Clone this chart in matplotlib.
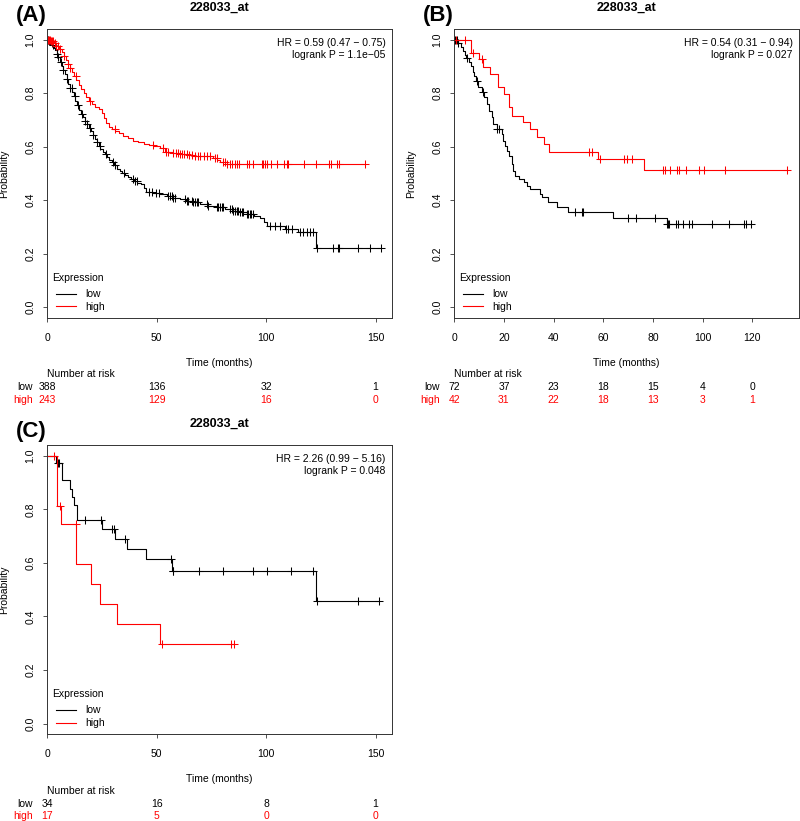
import numpy as np
import matplotlib
matplotlib.use("Agg")
import matplotlib.pyplot as plt
import matplotlib.transforms as mtransforms

plt.rcParams['font.family'] = ['Liberation Sans', 'DejaVu Sans']

# ---------------- data ----------------
probe = "228033_at"

# panel A
a_low_t = [0.8, 1.5, 2.2, 2.9, 3.6, 4.3, 5.0, 5.8, 6.5, 7.2, 8.0, 8.8, 9.6, 10.4, 11.2,
           12.0, 12.8, 13.6, 14.4, 15.3, 16.2, 17.1, 18.0, 18.9, 19.8, 20.7, 21.6, 22.5,
           23.4, 24.3, 25.3, 26.3, 27.3, 28.4, 29.5, 30.6, 31.7, 33.0, 34.3, 35.6, 37.0,
           38.4, 39.8, 41.2, 42.6, 44.2, 45.2, 48.5, 51.5, 54.5, 57.6, 60.5, 63.5, 66.5,
           69.7, 73.5, 77.4, 81.0, 85.0, 88.0, 91.1, 94.5, 97.0, 99.0, 100.2, 108.6,
           114.7, 122.7]
a_low_s = [0.995, 0.988, 0.980, 0.970, 0.960, 0.948, 0.935, 0.918, 0.902, 0.887, 0.870,
           0.853, 0.836, 0.820, 0.804, 0.789, 0.772, 0.755, 0.739, 0.724, 0.711, 0.697,
           0.684, 0.671, 0.658, 0.644, 0.630, 0.617, 0.604, 0.592, 0.582, 0.573, 0.563,
           0.552, 0.542, 0.530, 0.518, 0.510, 0.503, 0.496, 0.488, 0.480, 0.472, 0.466,
           0.460, 0.447, 0.432, 0.427, 0.422, 0.416, 0.410, 0.404, 0.398, 0.392, 0.386,
           0.380, 0.374, 0.368, 0.361, 0.355, 0.349, 0.342, 0.333, 0.320, 0.305, 0.293,
           0.280, 0.222]
a_low_cens = [0.4, 0.9, 1.3, 2.0, 2.8, 4.3, 5.0, 6.3, 7.3, 8.9, 10.4, 11.1, 12.6, 14.2,
              15.7, 17.2, 18.0, 19.5, 21.0, 22.6, 24.1, 26.8, 30.2, 31.0, 35.0, 39.3,
              40.1, 40.8, 46.6, 47.7, 49.6, 51.2, 55.3, 56.0, 56.8, 57.6, 58.3, 62.9,
              63.7, 64.4, 65.9, 66.7, 67.5, 68.2, 69.0, 72.8, 73.6, 77.4, 78.1, 78.9,
              79.6, 80.4, 83.5, 84.2, 85.0, 85.8, 86.5, 87.3, 88.0, 88.8, 89.6, 91.1,
              91.8, 92.6, 93.3, 94.1, 101.7, 104.0, 106.3, 109.0, 110.1, 111.6, 115.4,
              117.0, 118.5, 120.0, 121.5, 123.4, 130.7, 132.9, 133.4, 142.1, 147.4, 152.5]
a_high_t = [1.5, 3.0, 4.2, 5.3, 6.5, 7.5, 8.5, 9.4, 10.3, 11.2, 12.2, 13.2, 14.3, 15.5,
            16.7, 17.8, 19.0, 20.5, 22.0, 23.5, 24.8, 26.0, 27.0, 28.0, 29.5, 31.0, 32.8,
            34.7, 37.0, 39.3, 41.5, 44.0, 46.5, 48.4, 51.5, 53.8, 57.6, 60.6, 64.0, 67.0,
            72.8, 75.9, 77.5, 79.0, 82.0]
a_high_s = [0.995, 0.988, 0.978, 0.966, 0.954, 0.940, 0.925, 0.910, 0.895, 0.880, 0.864,
            0.848, 0.832, 0.816, 0.800, 0.786, 0.770, 0.758, 0.748, 0.740, 0.725, 0.708,
            0.690, 0.674, 0.667, 0.660, 0.650, 0.641, 0.632, 0.623, 0.617, 0.610, 0.606,
            0.602, 0.594, 0.582, 0.578, 0.573, 0.569, 0.567, 0.564, 0.557, 0.550, 0.542,
            0.536]
a_high_cens = [0.5, 0.8, 1.2, 1.6, 2.0, 2.7, 3.4, 4.2, 5.0, 5.8, 7.5, 9.6, 10.4, 13.1,
               19.5, 30.9, 48.1, 53.0, 54.1, 55.3, 57.6, 58.8, 59.5, 60.6, 61.7, 62.6,
               63.7, 64.9, 65.9, 67.5, 68.7, 69.7, 71.6, 72.8, 74.3, 76.6, 77.4, 80.1,
               81.2, 82.2, 83.5, 84.5, 85.8, 86.8, 87.7, 91.1, 92.0, 94.1, 97.9, 98.6,
               99.4, 100.2, 102.0, 105.1, 108.1, 109.4, 110.2, 117.2, 122.9, 128.9,
               129.6, 132.5, 133.2, 145.0]
a_risk_t = [0, 50, 100, 150]
a_risk_low = [388, 136, 32, 1]
a_risk_high = [243, 129, 16, 0]
a_hr = ["HR = 0.59 (0.47 \u2212 0.75)", "logrank P = 1.1e\u221205"]

# panel B
b_low_t = [1.5, 2.5, 3.5, 4.3, 4.9, 6.0, 6.6, 7.5, 7.9, 8.7, 9.7, 11.0, 12.1, 13.0, 14.1,
           15.0, 15.7, 17.1, 19.1, 19.7, 20.4, 21.1, 22.2, 23.1, 23.8, 24.4, 26.0, 28.0,
           29.1, 30.5, 34.5, 35.2, 37.9, 41.2, 45.9, 63.8, 85.8]
b_low_s = [0.986, 0.972, 0.958, 0.944, 0.930, 0.916, 0.902, 0.880, 0.866, 0.847, 0.822,
           0.803, 0.785, 0.760, 0.735, 0.710, 0.685, 0.666, 0.648, 0.623, 0.604, 0.585,
           0.567, 0.536, 0.511, 0.492, 0.480, 0.467, 0.455, 0.442, 0.424, 0.411, 0.392,
           0.374, 0.355, 0.334, 0.311]
b_low_cens = [0.3, 0.9, 1.6, 5.0, 9.0, 11.7, 17.1, 18.1, 48.6, 51.3, 51.7, 69.8, 73.2,
              81.0, 85.8, 86.0, 86.3, 89.3, 90.2, 91.9, 94.7, 95.6, 103.9, 110.7, 116.6,
              117.4, 119.3]
b_high_t = [6.6, 10.1, 11.7, 14.4, 17.5, 20.0, 22.2, 23.1, 27.8, 30.5, 33.4, 36.1, 38.1,
            57.8, 76.5]
b_high_s = [0.950, 0.928, 0.897, 0.872, 0.822, 0.797, 0.747, 0.716, 0.691, 0.666, 0.638,
            0.610, 0.582, 0.553, 0.513]
b_high_cens = [0.6, 4.2, 7.4, 11.0, 54.4, 55.3, 58.7, 68.4, 69.6, 71.7, 84.2, 85.0, 86.9,
               89.8, 90.6, 93.3, 98.5, 100.7, 108.9, 134.0]
b_risk_t = [0, 20, 40, 60, 80, 100, 120]
b_risk_low = [72, 37, 23, 18, 15, 4, 0]
b_risk_high = [42, 31, 22, 18, 13, 3, 1]
b_hr = ["HR = 0.54 (0.31 \u2212 0.94)", "logrank P = 0.027"]

# panel C
c_low_t = [4.0, 6.5, 10.4, 11.1, 12.2, 13.4, 24.9, 30.9, 36.2, 44.9, 56.8, 122.8]
c_low_s = [0.971, 0.909, 0.876, 0.845, 0.816, 0.760, 0.726, 0.689, 0.651, 0.613, 0.570,
           0.457]
c_low_cens = [4.7, 5.5, 17.2, 24.4, 29.7, 30.6, 35.6, 56.4, 57.3, 57.6, 69.4, 80.4, 93.8,
              100.5, 111.2, 121.5, 123.2, 141.8, 151.5]
c_high_t = [4.3, 6.3, 13.1, 19.8, 24.1, 32.0, 51.6]
c_high_s = [0.8125, 0.745, 0.596, 0.521, 0.447, 0.372, 0.298]
c_high_cens = [3.2, 6.0, 13.0, 52.5, 84.0, 85.4]
c_risk_t = [0, 50, 100, 150]
c_risk_low = [34, 16, 8, 1]
c_risk_high = [17, 5, 0, 0]
c_hr = ["HR = 2.26 (0.99 \u2212 5.16)", "logrank P = 0.048"]

# ---------------- drawing ----------------
W, H = 800, 821
fig = plt.figure(figsize=(W / 100, H / 100), dpi=100)
RED = '#ff0000'
FS = 7.5


def fx(x):
    return x / W


def fy(y):
    return 1 - y / H


def km(ax, t, s, cens, color):
    t = np.asarray(t, float)
    s = np.asarray(s, float)
    cens = np.asarray(cens, float)
    end = max(t.max(), cens.max())
    ax.step(np.r_[0, t, end], np.r_[1, s, s[-1]], where='post', color=color, lw=0.8)
    idx = np.searchsorted(t, cens, side='right') - 1
    cy = np.where(idx >= 0, s[np.clip(idx, 0, None)], 1.0)
    ax.plot(cens, cy, ls='none', marker='+', ms=6, mew=0.75, color=color)


def panel(box, label, xmax, xticks, low, high, risk_t, risk_low, risk_high, hr):
    left, top, right, bottom = box
    ax = fig.add_axes([fx(left), fy(bottom), (right - left) / W, (bottom - top) / H])
    km(ax, *low, 'black')
    km(ax, *high, RED)
    ax.set_xlim(0, xmax)
    ax.set_ylim(-0.04, 1.04)
    ax.set_xticks(xticks)
    ax.set_yticks([0, 0.2, 0.4, 0.6, 0.8, 1.0])
    ax.set_yticklabels(['0.0', '0.2', '0.4', '0.6', '0.8', '1.0'], rotation=90, va='center')
    ax.tick_params(axis='both', labelsize=FS, length=2.6, width=0.6, color='#333333')
    ax.tick_params(axis='x', pad=8.3)
    ax.tick_params(axis='y', pad=5.8)
    for sp in ax.spines.values():
        sp.set_linewidth(0.7)
        sp.set_color('#333333')

    cx = (left + right) / 2
    fig.text(fx(cx), fy(top - 21.5), probe, ha='center', va='center', fontsize=9,
             fontweight='bold')
    fig.text(fx(left - 16), fy(top - 14), label, ha='center', va='center', fontsize=16,
             fontweight='bold')
    fig.text(fx(right - 6.5), fy(top + 14), hr[0], ha='right', va='center', fontsize=FS)
    fig.text(fx(right - 6.5), fy(top + 26), hr[1], ha='right', va='center', fontsize=FS)
    fig.text(fx(left - 43), fy((top + bottom) / 2), 'Probability', rotation=90,
             ha='center', va='center', fontsize=FS)

    # legend
    fig.text(fx(left + 5), fy(bottom - 40), 'Expression', ha='left', va='center', fontsize=FS)
    for yy, col, name in [(bottom - 24, 'black', 'low'), (bottom - 11.5, RED, 'high')]:
        fig.add_artist(plt.Line2D([fx(left + 9), fx(left + 29)], [fy(yy), fy(yy)],
                                  color=col, lw=0.8))
        fig.text(fx(left + 38), fy(yy), name, ha='left', va='center', fontsize=FS)

    fig.text(fx(cx), fy(bottom + 44.5), 'Time (months)', ha='center', va='center',
             fontsize=FS)

    # number at risk
    fig.text(fx(left), fy(bottom + 56.3), 'Number at risk', ha='left', va='center',
             fontsize=FS)
    trans = mtransforms.blended_transform_factory(ax.transData, fig.transFigure)
    for yy, col, name, vals in [(bottom + 69.3, 'black', 'low', risk_low),
                                (bottom + 81.7, RED, 'high', risk_high)]:
        fig.text(fx(left - 14.5), fy(yy), name, ha='right', va='center', fontsize=FS,
                 color=col)
        for tt, v in zip(risk_t, vals):
            ax.text(tt, fy(yy), str(v), transform=trans, ha='center', va='center',
                    fontsize=FS, color=col, clip_on=False)
    return ax


panel((47.3, 29, 392, 318), '(A)', 157.5, [0, 50, 100, 150],
      (a_low_t, a_low_s, a_low_cens), (a_high_t, a_high_s, a_high_cens),
      a_risk_t, a_risk_low, a_risk_high, a_hr)
panel((454.3, 29, 799, 318), '(B)', 138.8, [0, 20, 40, 60, 80, 100, 120],
      (b_low_t, b_low_s, b_low_cens), (b_high_t, b_high_s, b_high_cens),
      b_risk_t, b_risk_low, b_risk_high, b_hr)
panel((47.3, 445, 392, 734.3), '(C)', 157.5, [0, 50, 100, 150],
      (c_low_t, c_low_s, c_low_cens), (c_high_t, c_high_s, c_high_cens),
      c_risk_t, c_risk_low, c_risk_high, c_hr)

fig.savefig('out.png', dpi=100)
